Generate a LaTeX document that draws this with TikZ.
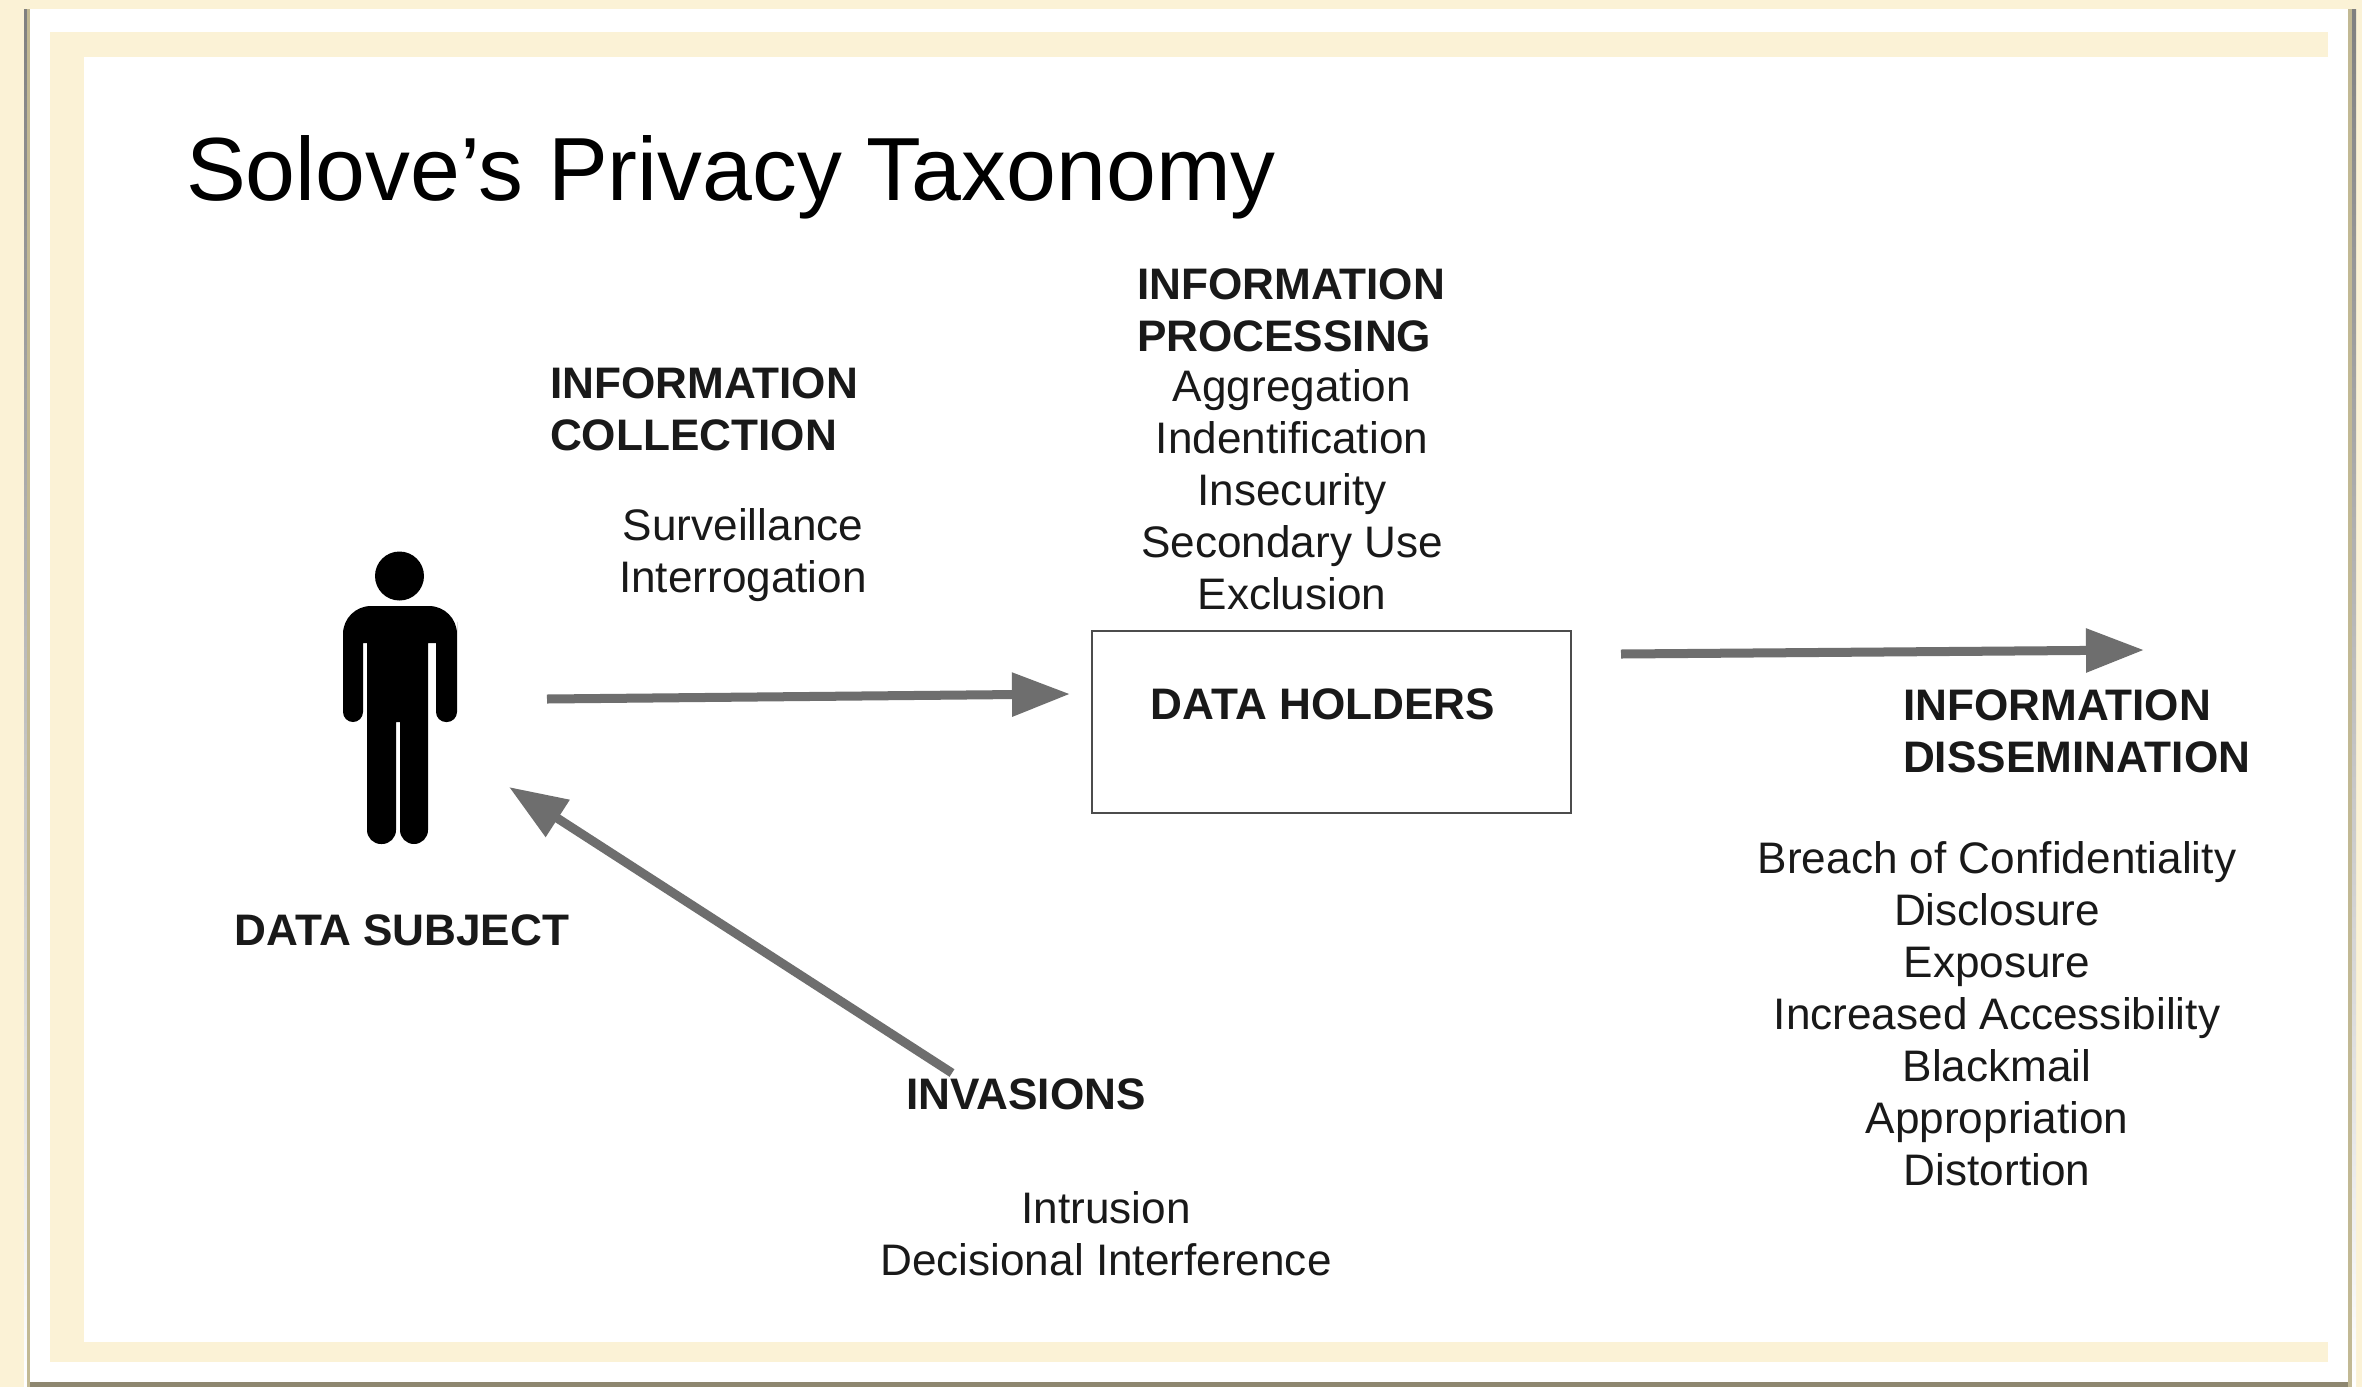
\documentclass[tikz,border=0pt]{standalone}
\usepackage{fontspec}
\setmainfont{Liberation Sans}
\usetikzlibrary{arrows.meta}

\definecolor{cream}{HTML}{FBF2D6}
\definecolor{shade}{HTML}{E6DCBA}
\definecolor{edge}{HTML}{C2B994}
\definecolor{rim}{HTML}{8E8770}
\definecolor{shaft}{HTML}{6E6E6E}

\begin{document}
\begin{tikzpicture}[x=0.01cm, y=-0.01cm]
\tikzset{ inner sep=0pt, outer sep=0pt,
  plain/.style={font=\fontsize{12.55}{14.8}\selectfont, align=center, text=black!90},
  head/.style={font=\fontsize{12.55}{14.8}\selectfont\bfseries, align=left, text=black!90},
  flow/.style={-{Triangle[length=0.58cm, width=0.42cm]}, shaft, line width=0.09cm},
}

%\draw [lightgray, dashed](0,0) grid (2362,1387);
\useasboundingbox (0,0) rectangle (2362,1387);

% frame
\fill [cream] (0,0) rectangle (2362,1387);
\fill [shade] (24,9) rectangle (2356,1387);
\fill [edge] (27,9) rectangle (2352,1387);
\fill [rim] (30,1382) rectangle (2348,1387);
\fill [white] (30,9) rectangle (2348,1382);
\fill [cream] (50,32) rectangle (2328,1362);
\fill [white] (84,57) rectangle (2328,1342);

\node [anchor=base west, font=\fontsize{25.5}{30}\selectfont, text=black] (TITLE) at (186,200) {Solove’s Privacy Taxonomy};

% person
\fill (399.5,576) circle [radius=24.5];
\fill [rounded corners=0.28cm] (343,640) -- (343,606) -- (457,606) -- (457,650)
  [rounded corners=0.1cm] -- (457,722) -- (436,722) [sharp corners] -- (436,643) -- (428,643)
  [rounded corners=0.14cm] -- (428,844) -- (400,844) [sharp corners] -- (400,722) -- (396,722)
  [rounded corners=0.14cm] -- (396,844) -- (367,844) [sharp corners] -- (367,643) -- (363,643)
  [rounded corners=0.1cm] -- (363,722) -- (343,722) [sharp corners] -- cycle;

\node [head] (SUBJ) at (402,930) {DATA SUBJECT};

\node [head] (COLL) [anchor=west] at (550,409) {INFORMATION\\COLLECTION};
\node [plain] (COLLIST) at (743,555) {Surveillance\\Interrogation};

\node [head] (PROC) [anchor=west] at (1137,310) {INFORMATION\\PROCESSING};
\node [plain] (PROCLIST) at (1292,490) {Aggregation\\Indentification\\Insecurity\\Secondary Use\\Exclusion};

\node [draw=black!70, line width=0.02cm, minimum width=4.79cm, minimum height=1.82cm] (BOX) at (1331.5,722) {};
\node [head] (HOLD) at (1323,704) {DATA HOLDERS};

\node [head] (DISS) [anchor=west] at (1903,731) {INFORMATION\\DISSEMINATION};
\node [plain] (DISSLIST) at (1997,1014) {Breach of Confidentiality\\Disclosure\\Exposure\\Increased Accessibility\\Blackmail\\Appropriation\\Distortion};

\node [head] (INV) at (1026,1094) {INVASIONS};
\node [plain] (INVLIST) at (1106,1234) {Intrusion\\Decisional Interference};

\coordinate (A) at (547,699);
\coordinate (B) at (1070,694);
\coordinate (C) at (1621,654);
\coordinate (D) at (2144,650);
\coordinate (E) at (952,1073);
\coordinate (F) at (509,787);

\draw [flow] (A) -- (B);
\draw [flow] (C) -- (D);
\draw [flow] (E) -- (F);

\end{tikzpicture}
\end{document}
